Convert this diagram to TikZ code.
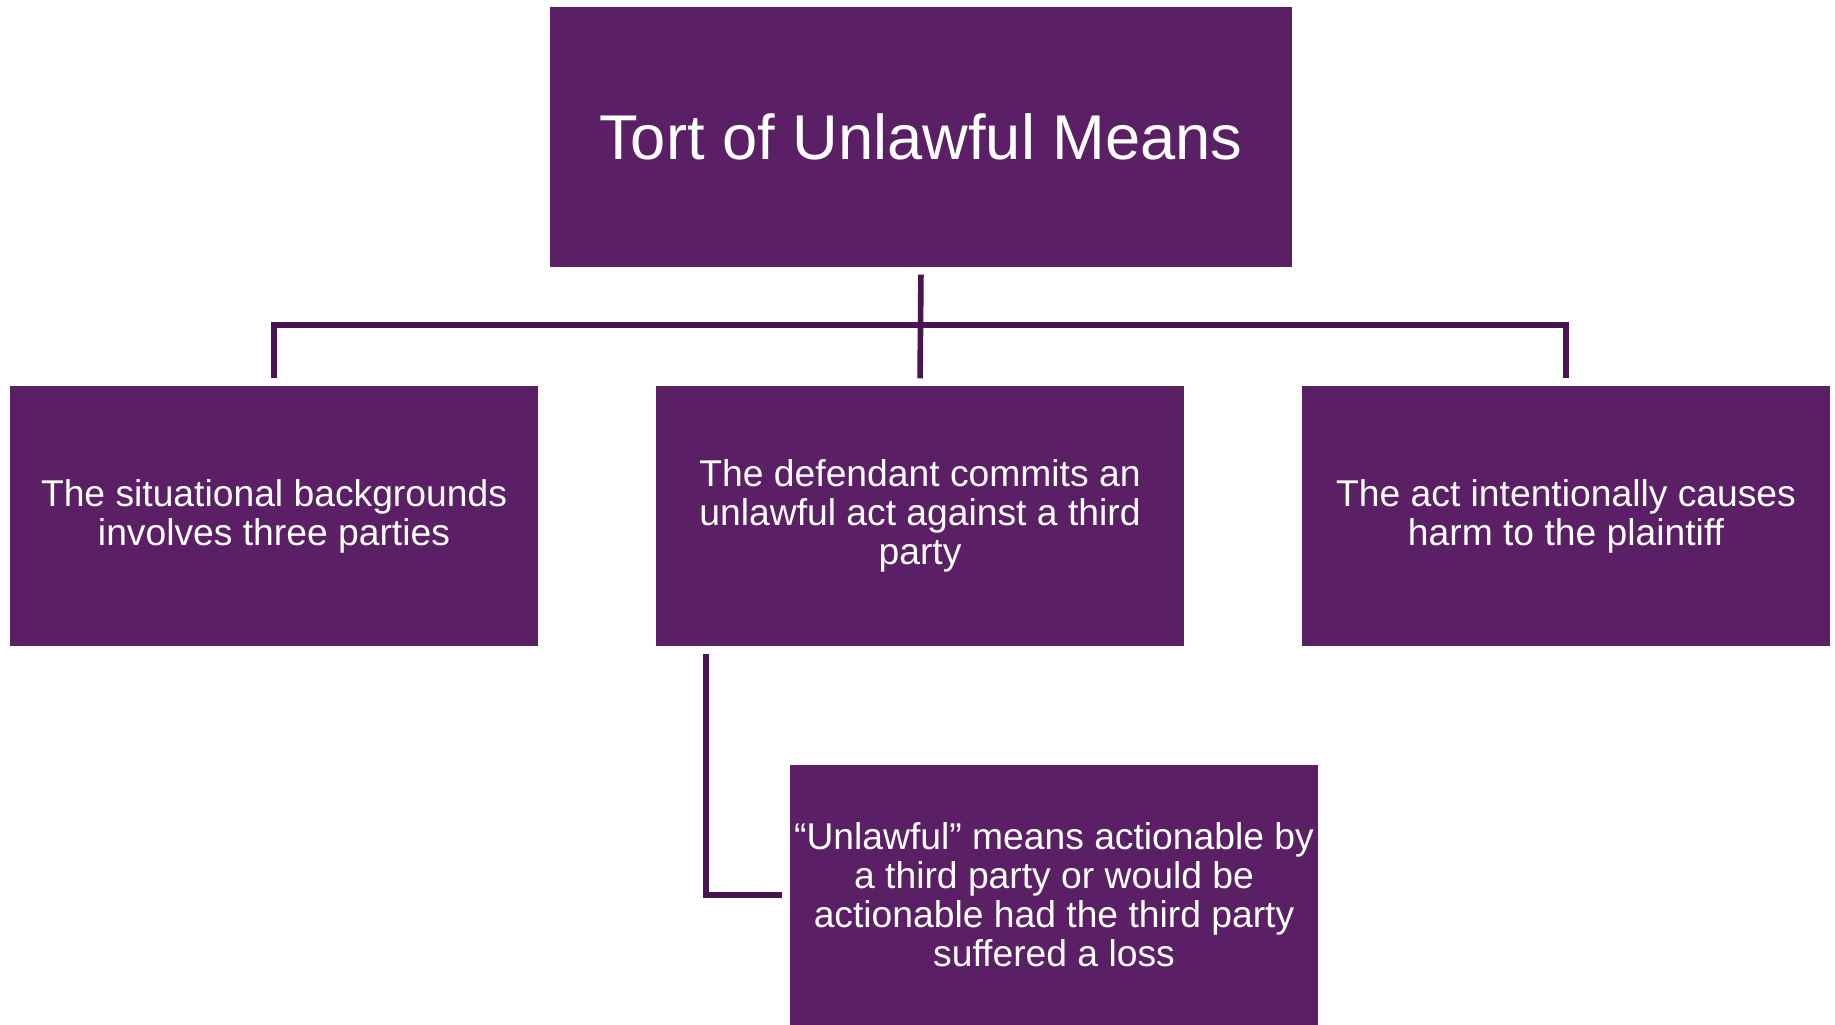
\documentclass[tikz,border=0pt]{standalone}
\usepackage{fontspec}
\setmainfont{Liberation Sans}
\usepackage{tikz}
\definecolor{boxpurple}{RGB}{91,31,101}
\definecolor{linkpurple}{RGB}{74,20,82}
\tikzset{
    box/.style={fill=boxpurple, text=white, align=center, inner sep=0pt,
        minimum width=5.28cm, minimum height=2.6cm,
        font=\fontsize{10.6}{11.1}\selectfont},
    titlebox/.style={box, minimum width=7.42cm,
        font=\fontsize{18}{20}\selectfont},
    link/.style={draw=linkpurple, line width=1.6pt,
        shorten <=0.07cm, shorten >=0.07cm}
}

\begin{document}
\begin{tikzpicture}[x=0.1mm, y=-0.1mm]
    \useasboundingbox (0,0) rectangle (1835,1024);

    % Title
    \node[titlebox] (title) at (921,137) {Tort of Unlawful Means};

    % Elements
    \node[box] (situation) at (274,516) {The situational backgrounds\\involves three parties};
    \node[box] (act) at (920,516) {The defendant commits an\\unlawful act against a third\\party};
    \node[box] (harm) at (1566,516) {The act intentionally causes\\harm to the plaintiff};

    % Meaning of unlawful
    \node[box] (meaning) at (1054,895) {“Unlawful” means actionable by\\a third party or would be\\actionable had the third party\\suffered a loss};

    % Connectors
    \coordinate (bus) at (921,325);
    \draw[link] (title.south) -- (act.north);
    \draw[link] (situation.north) |- (bus) -| (harm.north);
    \draw[link] ([xshift=0.505cm]act.south west) |- (meaning.west);
\end{tikzpicture}
\end{document}
